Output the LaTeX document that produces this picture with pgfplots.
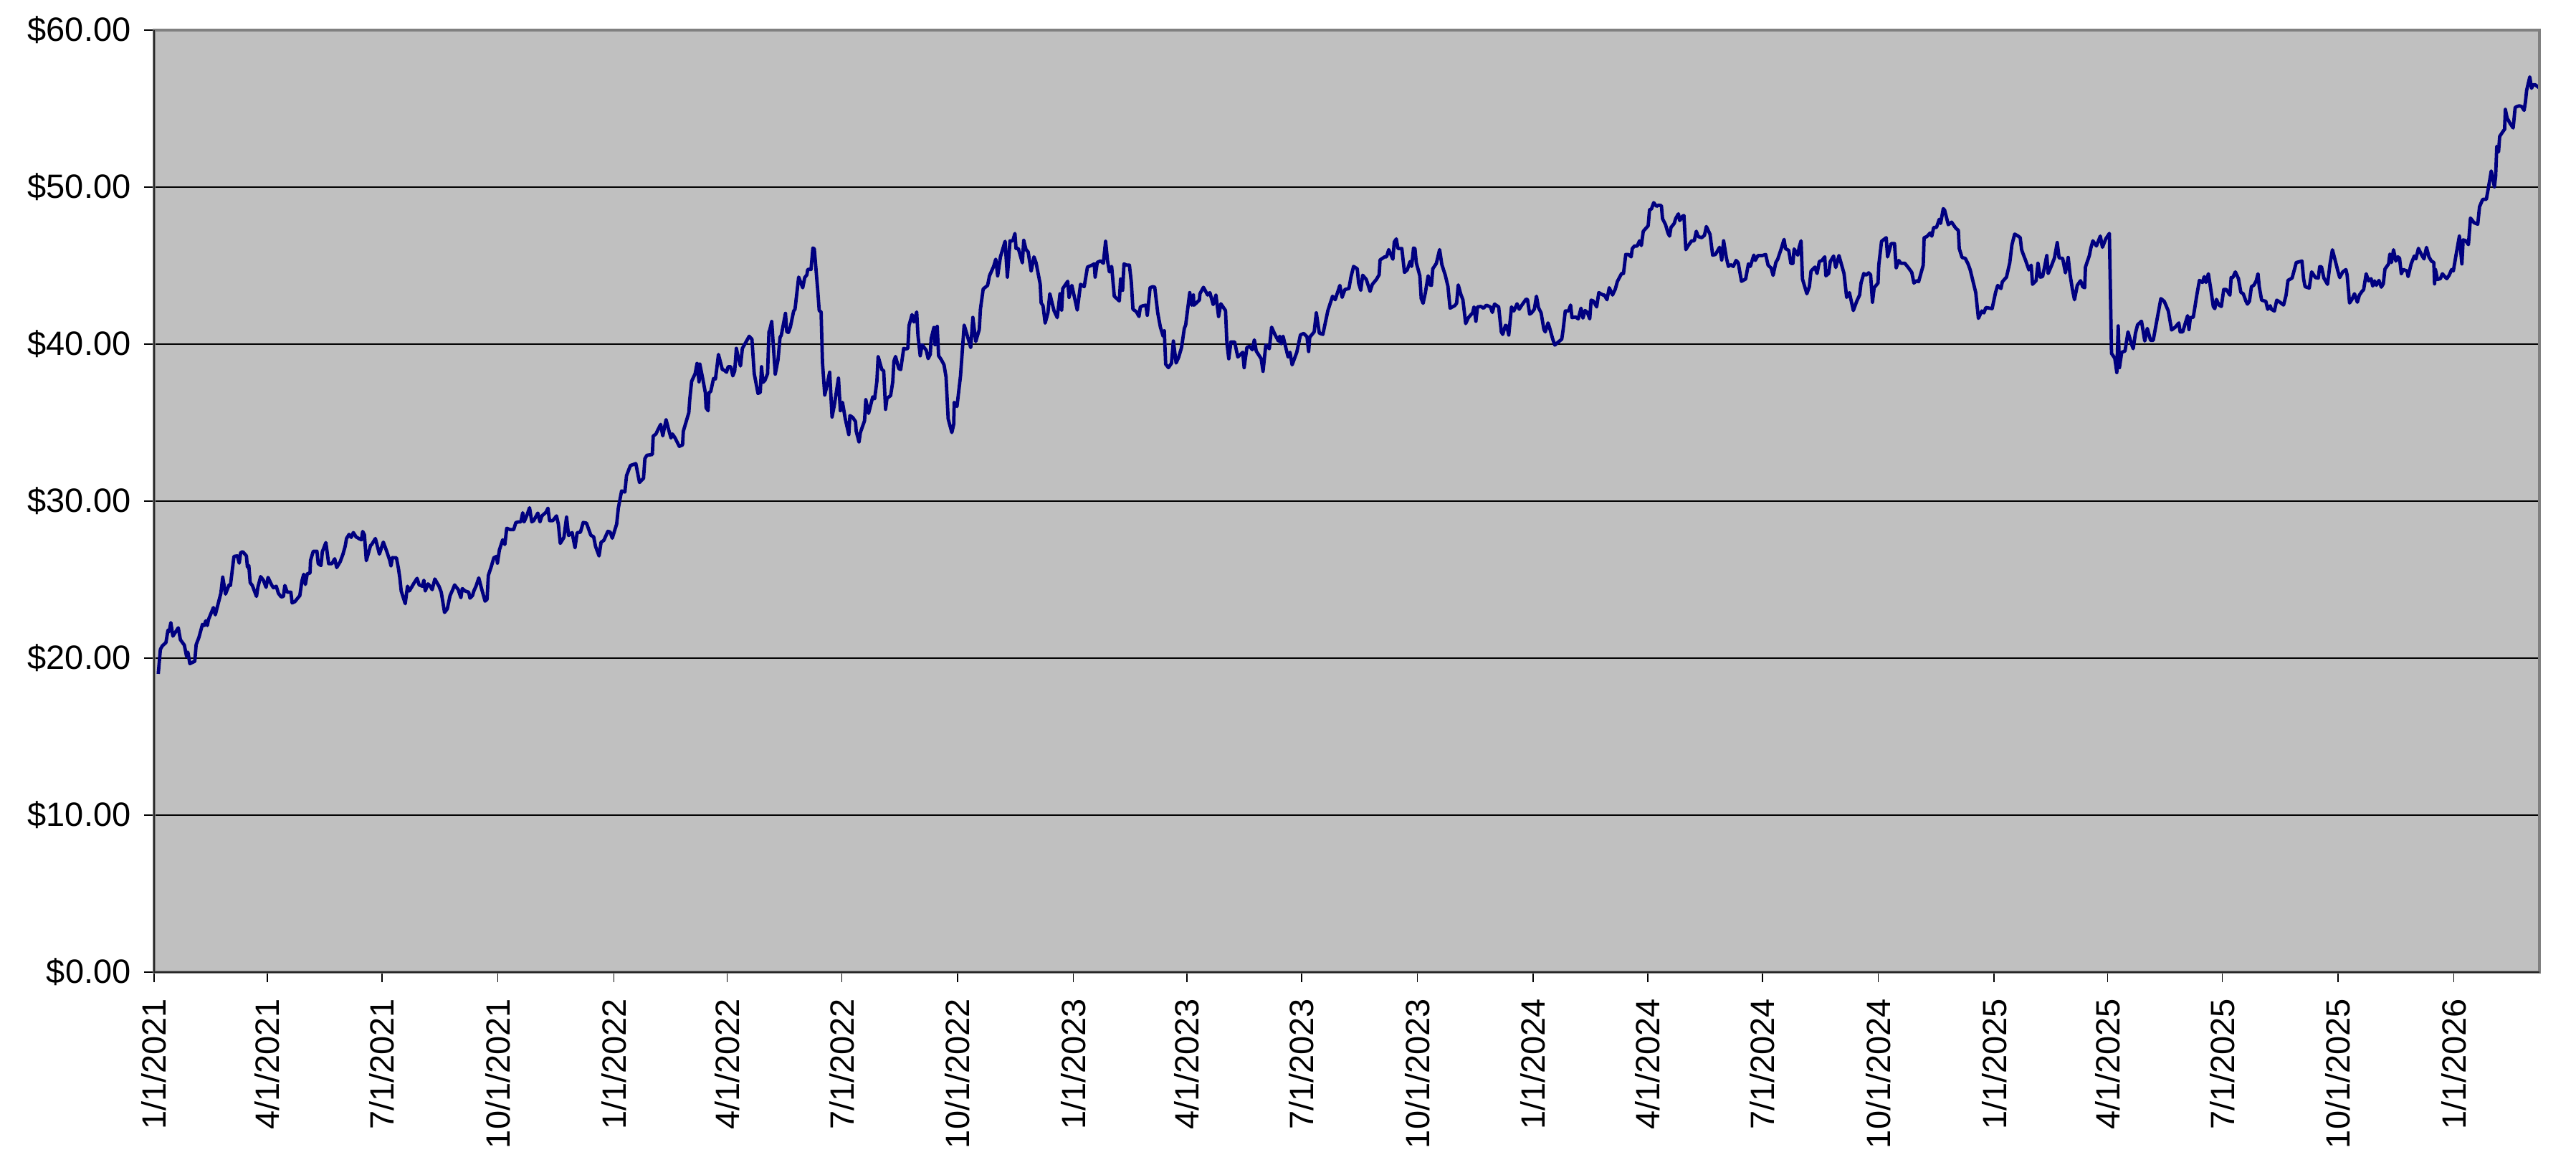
\documentclass[border=0pt]{standalone}
\usepackage{fontspec}
\setmainfont{Liberation Sans}
\usepackage{pgfplots}
\pgfplotsset{compat=1.18}
\definecolor{plotbg}{HTML}{C0C0C0}
\definecolor{navyline}{HTML}{000080}
\definecolor{framegray}{HTML}{808080}
\begin{document}
\begin{tikzpicture}
\useasboundingbox (-43pt,-55pt) rectangle (675.8pt,271.2pt);
\begin{axis}[
  at={(0,0)}, anchor=south west,
  scale only axis, width=665.6pt, height=262.8pt,
  xmin=0, xmax=1894, ymin=0, ymax=60,
  axis background/.style={fill=plotbg},
  axis line style={draw=none},
  clip mode=individual,
  ymajorgrids, grid style={black, line width=0.3pt},
  ytick={0,10,...,60},
  yticklabels={\$0.00,\$10.00,\$20.00,\$30.00,\$40.00,\$50.00,\$60.00},
  xtick={0,90,181,273,365,455,546,638,730,820,911,1003,1095,1186,1277,1369,1461,1551,1642,1734,1826},
  xticklabels={1/1/2021,4/1/2021,7/1/2021,10/1/2021,1/1/2022,4/1/2022,7/1/2022,10/1/2022,1/1/2023,4/1/2023,7/1/2023,10/1/2023,1/1/2024,4/1/2024,7/1/2024,10/1/2024,1/1/2025,4/1/2025,7/1/2025,10/1/2025,1/1/2026},
  tick align=outside, major tick length=2.7pt,
  tick style={black, line width=0.3pt},
  xtick pos=left, ytick pos=left,
  x tick label style={yshift=-4.5pt, rotate=90, anchor=east, font=\fontsize{9.4}{11}\selectfont, inner sep=0pt},
  y tick label style={xshift=-3.6pt, anchor=east, font=\fontsize{9.4}{11}\selectfont, inner sep=0pt},
]
\addplot[navyline, line width=0.95pt, line join=round] coordinates {
(3.3,19.00)(5.0,20.56)(6.6,20.79)(9.4,20.99)(11.0,21.78)(12.0,21.70)(13.3,22.26)(14.9,21.40)
(19.2,21.93)(20.9,21.17)(24.0,20.83)(25.8,20.11)(26.8,20.38)(28.4,19.65)(32.3,19.80)(33.4,20.86)
(35.6,21.32)(38.4,22.15)(39.9,22.08)(41.0,22.38)(42.3,22.08)(43.2,22.46)(47.1,23.22)(48.6,22.76)
(53.0,24.13)(54.5,25.16)(56.7,24.08)(59.5,24.66)(60.6,24.63)(63.4,26.48)(66.1,26.51)(67.6,26.05)
(68.7,26.71)(70.4,26.78)(73.3,26.51)(74.1,25.80)(75.2,25.90)(76.3,24.81)(78.0,24.63)(81.3,23.93)
(82.4,24.51)(84.6,25.19)(86.8,24.96)(88.9,24.51)(90.5,25.14)(93.3,24.66)(94.8,24.48)(97.0,24.58)
(98.7,24.13)(100.9,23.90)(102.7,23.93)(103.8,24.63)(105.7,24.20)(108.6,24.20)(109.6,23.52)(111.8,23.60)
(114.0,23.82)(115.7,23.98)(117.3,24.89)(118.8,25.34)(120.1,24.69)(121.6,25.37)(123.8,25.42)(124.2,26.22)
(126.4,26.81)(129.3,26.81)(130.3,26.02)(132.5,25.90)(133.6,26.78)(136.4,27.36)(138.6,26.02)(141.2,26.02)
(143.4,26.33)(145.0,25.77)(147.8,26.15)(150.0,26.63)(151.7,27.12)(152.8,27.62)(154.8,27.88)(156.5,27.69)
(158.2,28.00)(160.4,27.72)(163.0,27.60)(164.6,27.54)(165.6,28.07)(167.0,27.85)(168.5,26.21)(171.8,27.16)
(172.8,27.24)(175.7,27.62)(178.9,26.63)(182.0,27.39)(184.8,26.78)(187.0,26.25)(188.1,25.87)(189.2,26.40)
(192.4,26.39)(194.0,25.72)(195.1,25.11)(196.2,24.28)(199.4,23.47)(201.2,24.58)(202.7,24.28)(206.6,24.81)
(208.8,25.08)(210.5,24.66)(213.1,24.58)(214.2,24.96)(215.3,24.28)(217.5,24.73)(219.2,24.58)(220.8,24.36)
(222.9,25.04)(226.2,24.58)(228.0,24.20)(230.6,22.91)(232.8,23.14)(235.0,23.98)(237.1,24.36)(238.6,24.66)
(241.5,24.36)(243.6,23.85)(244.7,24.43)(246.9,24.28)(249.8,24.20)(250.8,23.82)(252.8,23.98)(253.9,24.28)
(255.6,24.58)(257.8,25.11)(260.0,24.43)(262.8,23.63)(264.4,23.75)(265.4,25.27)(267.6,25.80)(269.8,26.40)
(272.0,26.48)(272.6,26.05)(274.2,26.90)(276.8,27.54)(278.5,27.24)(280.0,28.27)(282.9,28.18)(285.5,28.18)
(287.2,28.63)(289.4,28.68)(291.2,28.68)(292.7,29.26)(293.8,28.68)(296.0,29.09)(298.1,29.58)(299.9,28.68)
(301.4,28.76)(304.7,29.24)(306.4,28.68)(307.9,29.06)(311.2,29.29)(312.7,29.55)(314.0,28.76)(316.6,28.76)
(319.5,29.06)(321.0,28.53)(322.5,27.31)(325.4,27.69)(327.5,28.98)(329.1,27.81)(331.9,28.00)
(334.2,27.03)(335.9,27.99)(338.5,28.02)(340.7,28.64)(343.3,28.60)(346.8,27.82)(349.0,27.73)(350.5,27.12)
(353.3,26.51)(354.9,27.38)(357.1,27.50)(360.3,28.08)(362.1,28.03)(363.8,27.64)(367.3,28.55)(368.6,29.56)
(371.2,30.65)(373.8,30.58)(375.1,31.62)(378.2,32.27)(382.5,32.39)(385.4,31.19)(388.6,31.45)(389.7,32.71)
(391.3,32.92)(395.6,32.97)(396.3,34.14)(398.5,34.28)(400.0,34.54)(402.2,34.89)(403.9,34.16)(406.5,35.19)
(408.3,34.63)(410.4,34.02)(411.5,34.28)(413.7,34.02)(417.0,33.49)(419.6,33.58)(420.2,34.45)(424.6,35.64)
(425.3,36.46)(426.8,37.63)(429.6,38.12)(431.1,38.77)(432.7,37.60)(433.3,38.73)(436.1,37.60)(437.7,36.90)
(438.3,35.94)(439.9,35.76)(440.5,36.90)(442.0,36.99)(444.2,37.81)(445.7,37.78)(446.8,38.47)(448.1,39.34)
(451.2,38.38)(452.9,38.33)(454.5,38.21)(455.8,38.56)(457.9,38.56)(459.5,37.98)(461.0,38.29)(462.3,39.73)
(463.8,39.17)(465.6,38.61)(467.1,39.73)(469.3,40.04)(472.5,40.50)(474.7,40.31)(476.5,38.12)(479.5,36.86)
(481.3,36.93)(482.3,38.56)(483.4,37.56)(485.0,37.69)(487.1,38.12)(488.2,40.78)(488.9,40.92)(490.4,41.44)
(493.2,38.09)(495.4,39.00)(497.0,40.43)(498.0,40.57)(501.3,41.96)(502.4,40.78)(503.7,40.75)(505.2,41.09)
(507.8,42.10)(508.9,42.23)(511.8,44.27)(515.0,43.59)(516.6,44.24)(518.3,44.41)(519.0,44.76)(521.6,44.76)
(523.1,46.12)(524.2,46.07)(527.0,43.36)(528.1,42.14)(529.6,42.05)(530.7,38.82)(532.5,36.76)(534.2,37.34)
(536.4,38.21)(538.3,35.36)(540.1,36.11)(543.4,37.83)(544.9,35.76)(546.6,36.29)(548.8,35.24)(551.6,34.24)
(552.5,35.45)(554.7,35.33)(556.9,35.07)(557.5,34.45)(559.7,33.76)(560.8,34.37)(564.1,35.12)(565.1,36.46)
(567.3,35.59)(570.6,36.64)(572.1,36.52)(573.9,37.64)(574.9,39.21)(577.8,38.38)(579.3,38.30)(580.8,35.85)
(581.9,36.55)(584.8,36.72)(586.5,37.60)(587.4,38.91)(588.7,39.21)(591.3,38.44)(592.8,38.38)(595.2,39.73)
(596.7,39.69)(598.5,39.73)(599.4,41.18)(601.8,41.88)(603.3,41.41)(605.5,42.05)(606.5,40.57)(608.3,39.26)
(609.8,39.96)(613.1,39.61)(614.6,39.08)(616.3,39.35)(617.0,40.36)(619.2,41.06)(620.1,39.96)(621.8,41.13)
(622.9,39.26)(625.1,39.00)(627.2,38.68)(628.8,37.91)(630.5,35.24)(633.4,34.37)(634.9,34.89)(635.3,36.29)
(637.5,36.03)(640.3,37.98)(643.2,41.21)(645.3,40.65)(648.4,39.78)(650.1,41.70)
(652.4,40.17)(655.2,40.93)(656.1,42.22)(658.3,43.51)(661.8,43.74)(663.3,44.35)(666.6,44.95)(668.3,45.41)
(669.8,44.35)(672.0,45.56)(675.7,46.55)(677.5,44.27)(679.6,46.58)(681.8,46.58)(683.5,47.05)(684.4,46.09)
(686.2,46.09)(689.4,45.18)(690.5,46.61)(692.3,46.02)(694.0,45.87)(696.4,44.65)(698.6,45.56)(700.3,45.18)
(703.6,43.81)(704.3,42.63)(705.8,42.45)(707.5,41.34)(709.7,41.99)(711.2,43.21)(714.5,42.14)(717.1,41.69)
(719.3,43.21)(720.6,42.17)(721.5,43.54)(725.4,44.00)(726.5,42.98)(728.7,43.74)(733.0,42.17)(735.6,43.81)
(738.5,43.66)(741.1,44.91)(744.6,45.03)(746.5,45.11)(747.2,44.27)(748.9,45.21)(751.5,45.30)(753.7,45.15)
(755.5,46.55)(757.0,45.33)(758.5,44.60)(760.3,44.95)(762.4,43.05)(766.4,42.75)(767.4,44.15)(769.0,43.43)
(770.1,45.11)(772.2,45.03)(774.4,45.03)(775.9,43.97)(777.2,42.22)(779.9,42.07)(782.0,41.76)(783.1,42.37)
(785.3,42.45)(787.5,42.48)(788.6,41.84)(790.8,43.59)(792.9,43.66)(794.5,43.63)(796.9,41.99)(799.0,41.08)
(801.2,40.50)(802.1,40.85)(803.2,38.72)(805.4,38.50)(807.8,38.78)(809.3,40.20)(811.5,38.80)(813.6,39.18)
(815.8,39.79)(818.0,41.00)(819.1,41.23)(822.3,43.28)(823.9,42.48)(825.2,43.13)(825.6,42.48)(828.2,42.67)
(830.0,42.82)(830.4,43.21)(833.2,43.62)(836.5,43.13)(838.3,43.28)(840.9,42.52)(843.1,43.13)(845.2,41.76)
(847.0,42.57)(850.7,42.14)(851.8,40.09)(853.3,39.07)(855.0,40.14)(857.9,40.14)(860.5,39.18)(864.4,39.48)
(865.5,38.50)(867.7,39.79)(869.9,39.86)(872.0,39.64)(873.6,40.27)(875.1,39.56)(879.0,39.07)(880.5,38.27)
(882.7,39.94)(885.5,39.71)(887.3,41.08)(889.9,40.62)(892.7,40.20)(893.8,40.50)(894.9,40.02)(896.4,40.50)
(900.4,39.18)(901.9,39.48)(903.6,38.68)(907.3,39.48)(910.2,40.59)(912.8,40.68)(915.4,40.47)(916.7,39.53)
(917.6,40.44)(921.1,40.78)(922.8,41.99)(925.2,40.70)(928.0,40.62)(932.0,42.14)(935.7,43.05)(937.8,42.83)
(941.5,43.74)(943.3,42.98)(945.5,43.48)(948.7,43.54)(950.3,44.27)(952.4,44.95)(955.3,44.80)(956.4,43.89)
(958.1,43.43)(959.6,44.39)(962.5,44.12)(965.5,43.36)(967.3,43.81)(970.5,44.12)(972.7,44.42)(973.4,45.36)
(977.1,45.56)(978.6,45.56)(980.3,46.02)(983.6,45.41)(984.7,46.50)
(986.3,46.70)(987.6,46.09)(990.7,46.09)(992.8,44.57)(995.0,44.73)(997.2,45.26)(998.5,44.95)(1000.0,46.12)
(1001.1,46.09)(1002.2,45.18)(1005.0,44.35)(1006.1,42.90)(1007.6,42.60)(1009.4,43.28)(1011.6,44.35)(1013.1,43.77)
(1014.2,43.74)(1015.3,44.80)(1018.1,45.14)(1020.7,46.02)(1022.5,45.06)(1025.1,44.42)(1027.3,43.69)(1029.0,42.29)
(1032.7,42.45)(1034.2,42.60)(1035.5,43.77)(1037.7,43.13)(1039.2,42.83)(1041.4,41.31)(1043.6,41.69)(1046.9,41.99)
(1048.0,42.37)(1049.5,41.46)(1050.8,42.37)(1053.4,42.40)(1055.6,42.29)(1057.8,42.48)(1061.0,42.37)(1062.6,42.02)
(1064.3,42.55)(1067.6,42.37)(1069.7,40.78)(1070.8,40.62)(1073.0,41.20)(1074.1,41.15)(1075.6,40.58)(1077.8,42.37)
(1079.6,42.11)(1082.2,42.57)(1083.9,42.22)(1085.7,42.45)(1089.4,42.87)(1090.5,42.83)(1092.2,41.91)(1093.7,41.99)
(1095.9,42.22)(1097.6,43.05)(1099.2,42.33)(1101.3,41.99)(1103.5,40.93)(1104.6,40.78)(1106.8,41.35)(1107.9,41.08)
(1110.5,40.32)(1112.2,39.94)(1115.5,40.17)(1117.7,40.32)(1118.8,40.93)(1120.5,42.11)(1123.1,42.11)(1124.7,42.49)
(1125.8,41.69)(1128.6,41.73)(1130.8,41.61)(1133.0,42.29)(1134.5,41.66)(1136.2,42.14)(1138.0,42.02)(1139.9,41.61)
(1141.0,42.80)(1142.7,42.75)(1145.4,42.37)(1147.1,43.28)(1150.4,43.13)(1151.5,43.13)(1153.6,42.83)(1155.4,43.59)
(1158.0,43.13)(1160.2,43.51)(1161.9,44.00)(1165.2,44.50)(1166.7,44.50)(1168.5,45.71)(1170.6,45.71)(1172.8,45.56)
(1173.7,46.09)(1175.4,46.25)(1177.6,46.25)(1179.4,46.58)(1180.9,46.28)(1182.4,47.19)(1186.3,47.54)(1187.4,48.56)
(1188.9,48.61)(1190.7,49.01)(1192.9,48.78)(1194.6,48.85)(1196.8,48.82)(1197.7,47.99)(1200.1,47.61)(1202.0,47.08)
(1203.3,46.88)(1204.4,47.43)(1207.0,47.69)(1208.1,47.99)(1210.3,48.30)(1211.4,47.87)(1213.6,48.15)(1214.7,48.19)
(1216.2,46.02)(1217.9,46.25)(1220.8,46.58)(1222.9,46.58)(1224.5,47.19)(1226.0,46.85)(1228.8,46.78)(1231.0,46.93)
(1232.5,47.49)(1235.4,47.00)(1237.5,45.67)(1239.7,45.71)(1243.0,46.17)(1244.7,45.36)(1246.2,46.58)(1248.4,45.49)
(1250.0,44.95)(1251.7,45.06)(1253.9,44.95)(1256.1,45.33)(1257.8,45.18)(1260.4,44.00)(1263.7,44.15)(1265.9,45.11)
(1267.4,44.95)(1270.2,45.67)(1271.3,45.33)(1273.5,45.64)(1276.8,45.64)(1279.6,45.71)(1281.5,45.03)(1283.9,44.85)
(1285.5,44.38)(1287.7,45.21)(1289.2,45.41)(1292.0,46.09)(1294.2,46.67)(1295.3,46.09)(1297.9,45.97)(1299.6,45.14)
(1301.2,45.14)(1302.2,46.06)(1303.6,45.87)(1305.1,45.67)(1306.2,46.17)(1307.7,46.58)(1308.8,44.15)(1312.3,43.21)
(1314.3,43.66)(1315.6,44.65)(1318.7,44.91)(1320.4,44.50)(1322.2,45.26)(1324.3,45.33)(1326.5,45.56)(1327.4,44.35)
(1329.6,44.50)(1330.9,45.26)(1333.5,45.61)(1335.2,44.88)(1337.8,45.64)(1341.8,44.50)(1343.9,42.98)(1346.1,43.28)
(1349.2,42.14)(1352.0,42.75)(1354.2,43.13)(1355.3,43.89)(1357.5,44.50)(1359.2,44.39)(1361.4,44.54)(1362.9,44.42)
(1364.4,42.67)(1365.7,43.59)(1368.8,43.89)(1369.4,45.03)(1371.6,46.55)(1375.3,46.78)(1376.4,45.56)(1379.2,46.40)
(1381.9,46.40)(1383.2,44.85)(1385.3,45.33)(1386.9,45.15)(1390.1,45.15)(1392.8,44.88)(1395.6,44.57)(1397.3,43.89)
(1399.3,44.04)(1401.0,43.97)(1403.2,44.60)(1404.7,45.03)(1405.4,46.78)(1407.6,46.85)(1410.2,47.08)(1411.5,46.88)
(1413.0,47.43)(1415.2,47.43)(1417.4,47.95)(1418.5,47.69)(1420.6,48.63)(1421.7,48.53)(1424.6,47.61)(1427.2,47.77)
(1430.5,47.39)(1432.6,47.24)(1433.3,46.09)(1435.5,45.52)(1438.1,45.46)(1440.3,45.11)(1442.0,44.73)(1446.4,43.28)
(1448.5,41.64)(1451.2,42.11)(1452.9,41.99)(1454.4,42.33)(1456.6,42.30)(1459.4,42.26)(1462.1,43.28)(1463.8,43.74)
(1466.4,43.54)(1467.5,43.97)(1470.8,44.27)(1473.4,45.18)(1475.1,46.32)(1477.3,47.01)(1479.9,46.89)(1481.7,46.78)
(1482.8,46.02)(1483.8,45.79)(1486.0,45.33)(1488.6,44.73)(1490.4,45.03)(1491.5,43.81)(1494.3,44.04)(1495.8,45.15)
(1497.6,44.27)(1499.5,44.30)(1502.8,45.64)(1503.9,44.50)(1506.7,45.03)(1508.9,45.49)(1511.1,46.47)(1512.6,45.49)
(1515.4,45.46)(1517.6,44.54)(1519.8,45.52)(1521.3,44.42)(1523.1,43.51)(1524.8,42.83)(1527.0,43.74)(1529.6,44.04)
(1531.3,43.66)(1532.9,43.59)(1533.5,44.91)(1536.6,45.64)(1537.7,46.09)(1539.4,46.58)(1542.2,46.25)(1545.3,46.88)
(1547.0,46.17)(1549.6,46.70)(1552.5,47.05)(1554.2,39.41)(1556.8,39.10)(1558.4,38.19)(1559.5,41.16)(1560.5,38.50)
(1562.3,39.48)(1564.9,39.56)(1567.3,40.78)(1569.9,40.05)(1571.4,39.71)(1573.2,40.70)(1574.9,41.23)(1578.0,41.46)
(1580.6,40.20)(1582.6,41.00)(1585.2,40.24)(1587.3,40.24)(1590.6,41.69)(1593.4,42.90)(1596.1,42.72)(1599.3,42.11)
(1601.9,40.90)(1604.8,41.08)(1607.6,41.35)(1608.7,40.78)(1610.7,40.78)(1614.6,41.81)(1615.7,40.93)(1616.8,41.69)
(1619.1,41.71)(1622.0,43.16)(1624.0,44.06)(1626.5,43.93)(1627.8,44.30)(1629.2,43.93)(1631.1,44.48)(1632.7,43.66)
(1635.0,42.40)(1636.2,42.26)(1637.5,42.85)(1639.5,42.49)(1641.4,42.40)(1643.3,43.48)(1645.3,43.48)(1648.2,43.12)
(1649.2,44.24)(1650.5,44.24)(1652.5,44.60)(1655.0,44.17)(1656.9,43.30)(1658.8,43.21)(1660.8,42.76)(1662.1,42.55)
(1663.7,42.73)(1665.3,43.66)(1667.2,43.75)(1669.1,44.03)(1670.5,44.48)(1671.5,43.66)(1673.4,42.80)(1676.7,42.73)
(1678.2,42.22)(1680.2,42.44)(1681.1,42.22)(1683.5,42.11)(1685.4,42.80)(1687.9,42.67)(1690.8,42.49)(1692.8,43.12)
(1694.3,44.06)(1697.6,44.21)(1700.9,45.20)(1705.4,45.29)(1706.7,44.17)(1707.9,43.66)(1711.2,43.57)(1713.1,44.60)
(1716.1,44.24)(1718.4,44.21)(1719.5,44.93)(1720.9,44.93)(1722.8,44.21)(1725.7,43.81)(1727.7,45.11)(1729.6,46.01)
(1732.5,45.11)(1733.9,44.66)(1735.4,44.24)(1737.8,44.60)(1740.3,44.75)(1741.3,44.39)(1743.2,42.62)(1745.1,42.85)
(1747.1,43.21)(1749.4,42.67)(1751.0,43.12)(1752.9,43.34)(1754.4,43.48)(1756.4,44.48)(1758.3,44.03)(1760.3,44.17)
(1761.6,43.70)(1763.0,44.03)(1764.5,43.75)(1766.5,44.06)(1768.4,43.63)(1770.0,43.84)(1771.3,44.78)(1774.2,45.11)
(1775.2,45.74)(1776.5,45.20)(1778.1,46.01)(1780.0,45.29)(1781.6,45.56)(1782.9,45.47)(1784.3,44.48)(1785.9,44.75)
(1788.8,44.66)(1789.7,44.30)(1792.1,45.11)(1794.6,45.61)(1795.9,45.43)(1797.9,46.10)(1800.4,45.69)(1802.3,45.43)
(1804.3,46.16)(1806.2,45.56)(1808.2,45.29)(1810.1,45.20)(1810.7,43.84)(1811.4,44.75)(1813.0,44.12)(1815.3,44.17)
(1816.9,44.48)(1818.8,44.30)(1820.4,44.17)(1822.3,44.39)(1824.2,44.75)(1825.6,44.66)(1827.5,45.56)(1830.4,46.88)
(1832.4,45.11)(1833.4,46.64)(1835.3,46.59)(1837.6,46.34)(1839.2,48.03)(1842.1,47.73)(1845.0,47.64)(1846.4,48.75)
(1848.9,49.22)(1851.8,49.22)(1853.7,50.07)(1855.7,51.03)(1858.2,50.02)(1859.2,50.70)(1860.1,52.60)(1861.5,52.24)
(1862.4,53.23)(1865.4,53.59)(1866.3,53.68)(1866.9,54.95)(1868.3,54.40)(1870.8,54.04)(1873.1,53.77)(1874.7,55.07)
(1876.0,55.13)(1878.0,55.18)(1879.9,55.13)(1881.8,54.89)(1882.8,55.40)(1883.8,56.16)(1886.3,57.02)(1887.7,56.30)
(1889.0,56.52)(1890.6,56.52)(1893.5,56.34)
};
\draw[framegray, line width=0.8pt] (rel axis cs:0,0) rectangle (rel axis cs:1,1);
\draw[black!85, line width=0.5pt] (rel axis cs:0,1) -- (rel axis cs:0,0) -- (rel axis cs:1,0);
\end{axis}
\end{tikzpicture}
\end{document}
